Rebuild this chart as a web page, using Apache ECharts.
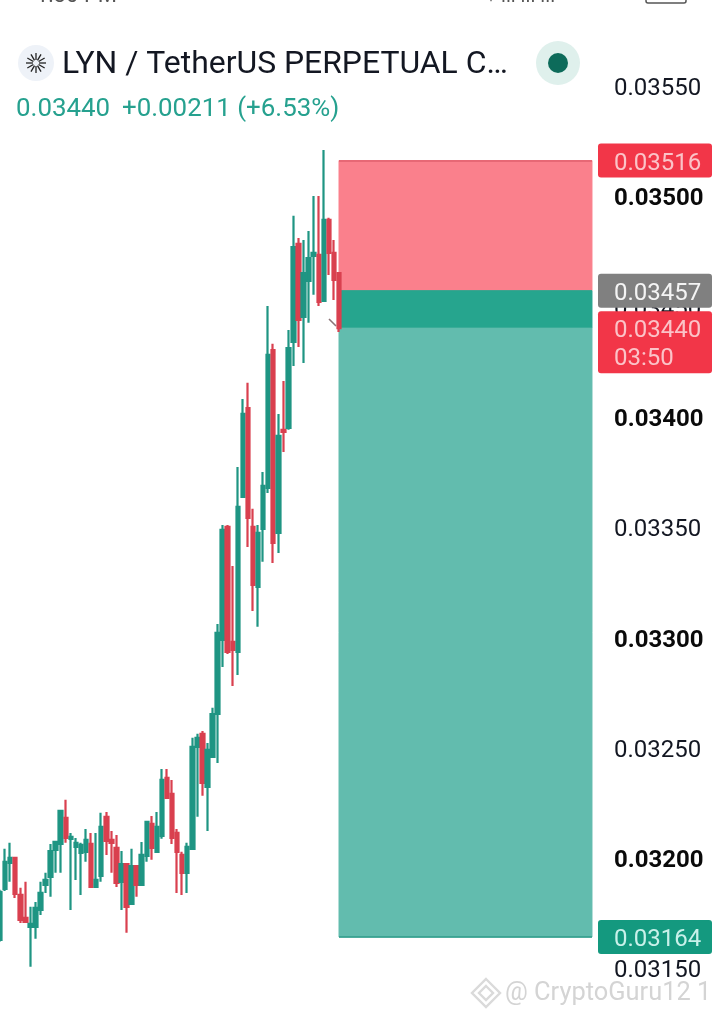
<!DOCTYPE html>
<html>
<head>
<meta charset="utf-8">
<style>html,body{margin:0;padding:0;background:#fff}#c{width:719px;height:1018px}</style>
<script src="https://cdn.jsdelivr.net/npm/echarts@6/dist/echarts.min.js"></script>
</head>
<body>
<div id="c"></div>
<script>
const opens = [0.031627,0.031858,0.031976,0.031999,0.031831,0.031727,0.031686,0.031686,0.031763,0.031876,0.031913,0.032035,0.032062,0.032180,0.032085,0.032049,0.032021,0.032026,0.032062,0.031867,0.031917,0.032185,0.032080,0.032044,0.031890,0.031971,0.031790,0.031962,0.031876,0.032008,0.032153,0.032026,0.032098,0.032361,0.032289,0.032112,0.032012,0.031931,0.032040,0.032502,0.032561,0.032320,0.032456,0.032651,0.032987,0.033499,0.032978,0.032932,0.033635,0.034038,0.033499,0.033227,0.033490,0.033676,0.034301,0.033472,0.033939,0.033948,0.034338,0.034782,0.034451,0.034614,0.034728,0.034732,0.034524,0.034891,0.034741,0.034650];
const closes = [0.031845,0.031981,0.031999,0.031835,0.031718,0.031709,0.031700,0.031772,0.031840,0.031899,0.032030,0.032071,0.032212,0.032089,0.032094,0.032067,0.032058,0.032080,0.031867,0.031899,0.032139,0.032076,0.032067,0.031885,0.031971,0.031777,0.031962,0.031876,0.032012,0.032162,0.032044,0.032139,0.032352,0.032271,0.032089,0.032026,0.031931,0.032049,0.032502,0.032543,0.032339,0.032488,0.032651,0.033019,0.033486,0.032932,0.032941,0.033590,0.034011,0.033540,0.033236,0.033472,0.033685,0.034279,0.033427,0.033912,0.033930,0.034310,0.034768,0.034437,0.034650,0.034718,0.034741,0.034519,0.034891,0.034741,0.034619,0.034400];
const lows = [0.031618,0.031849,0.031890,0.031817,0.031704,0.031709,0.031505,0.031632,0.031740,0.031840,0.031822,0.031931,0.031931,0.032067,0.031763,0.031899,0.031831,0.031981,0.031863,0.031867,0.031890,0.032012,0.031931,0.031867,0.031763,0.031659,0.031790,0.031822,0.031876,0.031981,0.031990,0.032026,0.032085,0.032271,0.032062,0.031840,0.031831,0.031840,0.032040,0.032185,0.032280,0.032121,0.032456,0.032429,0.032864,0.032923,0.032778,0.032828,0.033635,0.033408,0.033118,0.033046,0.033341,0.033653,0.033336,0.033381,0.033839,0.033939,0.034229,0.034315,0.034242,0.034424,0.034551,0.034501,0.034524,0.034641,0.034528,0.034383];
const highs = [0.031854,0.032040,0.032067,0.031999,0.031863,0.031890,0.031777,0.031799,0.031890,0.031931,0.032062,0.032076,0.032212,0.032262,0.032112,0.032089,0.032067,0.032130,0.032112,0.032112,0.032203,0.032207,0.032121,0.032103,0.032030,0.031971,0.032040,0.031962,0.032071,0.032162,0.032189,0.032207,0.032402,0.032402,0.032352,0.032130,0.032026,0.032067,0.032543,0.032561,0.032574,0.032520,0.032679,0.033059,0.033508,0.033508,0.033322,0.033771,0.034079,0.034152,0.033581,0.033508,0.033748,0.034501,0.034329,0.034011,0.034161,0.034392,0.034909,0.034809,0.034800,0.034841,0.034999,0.034999,0.035208,0.034900,0.034800,0.034655];

const stopLoss = 0.03516;
const entry = 0.03457;
const lastPrice = 0.03440;
const takeProfit = 0.03164;
const positionStart = 67;
const positionEnd = 117;
const slotCount = 118;

const tagPrices = [stopLoss, entry, lastPrice, takeProfit];
const tagTexts = ['0.03516', '0.03457', '0.03440', '0.03164'];
const tagFills = ['#f23648', '#808080', '#f23648', '#14997f'];
const tagInks = ['#fbc3c8', '#f4f4f4', '#fbc3c8', '#c9f1ea'];
const countdown = '03:50';

const boldTicks = ['0.03500', '0.03400', '0.03300', '0.03200'];
const categories = Array.from({length: slotCount}, (_, i) => String(i));
const candles = opens.map((o, i) => [o, closes[i], lows[i], highs[i]]);

const FONT = 'Roboto';
const graphics = [];
function text(x, y, t, size, fill, extra) {
  graphics.push({type: 'text', silent: true, z: 50, style: Object.assign({x, y, text: t, fill, font: size + 'px ' + FONT, textVerticalAlign: 'middle'}, extra || {})});
}
// status bar, cropped at the top of the photo
text(36, -4, '1:30 PM', 22, '#555');
text(486, -3, '▾ ıll ııl ııl', 20, '#555');
graphics.push({type: 'rect', silent: true, z: 50, shape: {x: 646, y: -10, width: 40, height: 13, r: 2}, style: {fill: 'none', stroke: '#555', lineWidth: 1.5}});

// header
graphics.push({type: 'circle', silent: true, z: 50, shape: {cx: 36, cy: 63, r: 18}, style: {fill: '#eef2f8'}});
for (let i = 0; i < 12; i++) {
  const a = i * Math.PI / 6, c = Math.cos(a), s = Math.sin(a);
  graphics.push({type: 'line', silent: true, z: 51, shape: {x1: 36 + 3 * c, y1: 63 + 3 * s, x2: 36 + 10 * c, y2: 63 + 10 * s}, style: {stroke: '#222', lineWidth: 1.3}});
}
text(62, 65, 'LYN / TetherUS PERPETUAL C…', 31.9, '#131722');
graphics.push({type: 'circle', silent: true, z: 50, shape: {cx: 558, cy: 63, r: 22}, style: {fill: '#dff0ec'}});
graphics.push({type: 'circle', silent: true, z: 51, shape: {cx: 558, cy: 63, r: 10}, style: {fill: '#0d6b5a'}});
text(16, 110, '0.03440', 25.9, '#26a18f');
text(122, 110, '+0.00211 (+6.53%)', 25.9, '#26a18f');

// small marker beside the last candle
graphics.push({type: 'line', silent: true, z: 20, shape: {x1: 329, y1: 319, x2: 336, y2: 326}, style: {stroke: '#8c7478', lineWidth: 1.6}});

// watermark
[[486, 993, 14], [486, 993, 7]].forEach(d => {
  graphics.push({type: 'polygon', silent: true, z: 50, shape: {points: [[d[0], d[1] - d[2]], [d[0] + d[2], d[1]], [d[0], d[1] + d[2]], [d[0] - d[2], d[1]]]}, style: {fill: 'none', stroke: '#dadada', lineWidth: 2.4}});
});
text(505, 994, '@ CryptoGuru12 1', 25.4, '#d4d4d4');

const option = {
  animation: false,
  backgroundColor: '#ffffff',
  grid: {left: -2.5, top: 85.5, width: 597, height: 882.4, outerBoundsMode: 'none'},
  xAxis: {type: 'category', data: categories, boundaryGap: true, axisLine: {show: false}, axisTick: {show: false}, axisLabel: {show: false}, splitLine: {show: false}},
  yAxis: {
    type: 'value', position: 'right', min: 0.0315, max: 0.0355, interval: 0.0005, scale: true,
    axisLine: {show: false}, axisTick: {show: false}, splitLine: {show: false},
    axisLabel: {
      margin: 19.5, align: 'left',
      formatter: v => {
        const s = v.toFixed(5);
        return (boldTicks.includes(s) ? '{b|' : '{n|') + s + '}';
      },
      rich: {
        n: {fontFamily: FONT, fontSize: 24, color: '#131722', padding: [7, 0, 0, 0]},
        b: {fontFamily: FONT, fontSize: 24, fontWeight: 'bold', color: '#0a0a0a', padding: [7, 0, 0, 0]}
      }
    }
  },
  graphic: graphics,
  series: [
    {
      type: 'candlestick', data: candles, barWidth: 4, z: 5,
      itemStyle: {color: '#1f9583', color0: '#d9404f', borderColor: '#1f9583', borderColor0: '#d9404f', borderWidth: 2.2},
      markArea: {
        silent: true,
        data: [
          [{xAxis: positionStart, yAxis: stopLoss, itemStyle: {color: '#fa808c', borderColor: '#fa808c', borderWidth: 1}}, {xAxis: positionEnd, yAxis: entry}],
          [{xAxis: positionStart, yAxis: entry, itemStyle: {color: '#26a58e', borderColor: '#26a58e', borderWidth: 1}}, {xAxis: positionEnd, yAxis: lastPrice}],
          [{xAxis: positionStart, yAxis: lastPrice, itemStyle: {color: '#62bcae', borderColor: '#62bcae', borderWidth: 1}}, {xAxis: positionEnd, yAxis: takeProfit}]
        ]
      },
      markLine: {
        silent: true, symbol: 'none', label: {show: false},
        data: [
          {yAxis: lastPrice, lineStyle: {color: '#a23a6c', type: [2, 6], width: 2}},
          [{xAxis: positionStart, yAxis: stopLoss, lineStyle: {color: '#e0606e', type: 'solid', width: 1.5}}, {xAxis: positionEnd, yAxis: stopLoss}],
          [{xAxis: positionStart, yAxis: takeProfit, lineStyle: {color: '#2f9c8a', type: 'solid', width: 1.5}}, {xAxis: positionEnd, yAxis: takeProfit}]
        ]
      }
    },
    {
      type: 'custom', z: 30, silent: true, clip: false,
      data: tagPrices.map(p => [positionEnd, p]),
      encode: {x: 0, y: 1},
      renderItem: (params, api) => {
        const i = params.dataIndex;
        const y = api.coord([api.value(0), api.value(1)])[1];
        const isLast = tagPrices[i] === lastPrice;
        const children = [
          {type: 'rect', shape: {x: 598, y: y - 17, width: 114, height: isLast ? 62 : 34, r: 3}, style: {fill: tagFills[i]}},
          {type: 'text', style: {x: 614, y: y + 3, text: tagTexts[i], fill: tagInks[i], font: '24px ' + FONT, textVerticalAlign: 'middle'}}
        ];
        if (isLast) children.push({type: 'text', style: {x: 614, y: y + 31, text: countdown, fill: tagInks[i], font: '24px ' + FONT, textVerticalAlign: 'middle'}});
        return {type: 'group', children};
      }
    }
  ]
};
const chart = echarts.init(document.getElementById('c'), null, {renderer: 'canvas', width: 719, height: 1018});
chart.setOption(option);
</script>
</body>
</html>
